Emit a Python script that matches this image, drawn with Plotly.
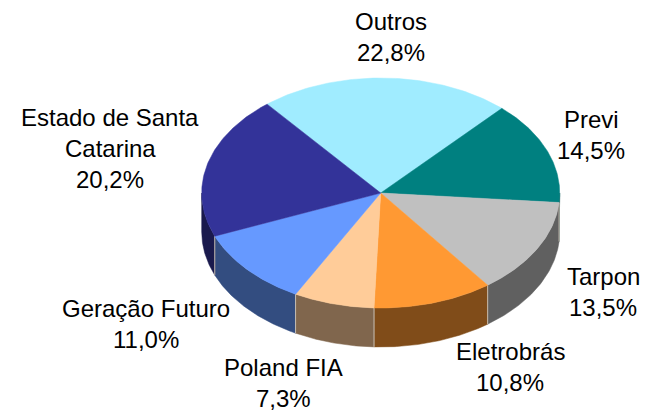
import numpy as np
import plotly.graph_objects as go

labels = ["Outros", "Previ", "Tarpon", "Eletrobrás", "Poland FIA", "Geração Futuro", "Estado de Santa<br>Catarina"]
values = [22.8, 14.5, 13.5, 10.8, 7.3, 11.0, 20.2]
value_labels = ["22,8%", "14,5%", "13,5%", "10,8%", "7,3%", "11,0%", "20,2%"]
top_colors = ["#A0ECFF", "#008080", "#C0C0C0", "#FF9933", "#FFCC99", "#6699FF", "#333399"]
side_colors = ["#507680", "#004040", "#606060", "#804C19", "#80664D", "#334D80", "#1A1A4D"]
label_x = [391, 591, 603, 510, 283, 146, 110]
label_y = [21.5, 119.5, 276, 351, 367, 308.5, 117.5]

CX, CY, RX, RY, DEPTH = 380.7, 193, 179, 115, 39
START = 320.6 - 360
STEP = 360 / sum(values)


def ell(t_deg, dy=0):
    t = np.radians(t_deg)
    return CX + RX * np.sin(t), CY - RY * np.cos(t) + dy


angles = [START]
for v in values:
    angles.append(angles[-1] + v * STEP)

fig = go.Figure()

# sides (only the front half of the cylinder, 90 to 270 degrees)
for i in range(len(values)):
    a, b = angles[i], angles[i + 1]
    a2, b2 = max(a, 90), min(b, 270)
    if b2 <= a2:
        continue
    ts = np.linspace(a2, b2, 60)
    x1, y1 = ell(ts)
    x2, y2 = ell(ts[::-1], DEPTH)
    fig.add_trace(go.Scatter(x=np.r_[x1, x2, x1[0]], y=np.r_[y1, y2, y1[0]], mode="lines",
                             fill="toself", fillcolor=side_colors[i],
                             line=dict(color=side_colors[i], width=0.5), hoverinfo="skip"))

# pale dividers on the side wall
for t in angles[2:-1]:
    if 90 < t < 270:
        x1, y1 = ell(t)
        x2, y2 = ell(t, DEPTH)
        fig.add_trace(go.Scatter(x=[x1, x2], y=[y1, y2], mode="lines",
                                 line=dict(color="#C9BFB2", width=1), hoverinfo="skip"))

# top faces
for i in range(len(values)):
    ts = np.linspace(angles[i], angles[i + 1], 90)
    x, y = ell(ts)
    fig.add_trace(go.Scatter(x=np.r_[CX, x, CX], y=np.r_[CY, y, CY], mode="lines",
                             fill="toself", fillcolor=top_colors[i],
                             line=dict(color=top_colors[i], width=0.5), hoverinfo="skip"))

annotations = []
for lab, val, lx, ly in zip(labels, value_labels, label_x, label_y):
    lines = lab.split("<br>") + [val]
    for k, line in enumerate(lines):
        annotations.append(dict(x=lx, y=ly + k * 31, text=line, showarrow=False,
                                xanchor="center", yanchor="middle",
                                font=dict(family="Liberation Sans", size=24, color="#000000")))

fig.update_layout(
    width=645, height=411, showlegend=False,
    margin=dict(l=0, r=0, t=0, b=0),
    paper_bgcolor="white", plot_bgcolor="white",
    xaxis=dict(range=[0, 645], visible=False, fixedrange=True),
    yaxis=dict(range=[411, 0], visible=False, fixedrange=True),
    annotations=annotations,
)
fig.write_html("out.html", config={"displayModeBar": False},
               post_script="document.body.style.margin='0';document.body.style.overflow='hidden';")
